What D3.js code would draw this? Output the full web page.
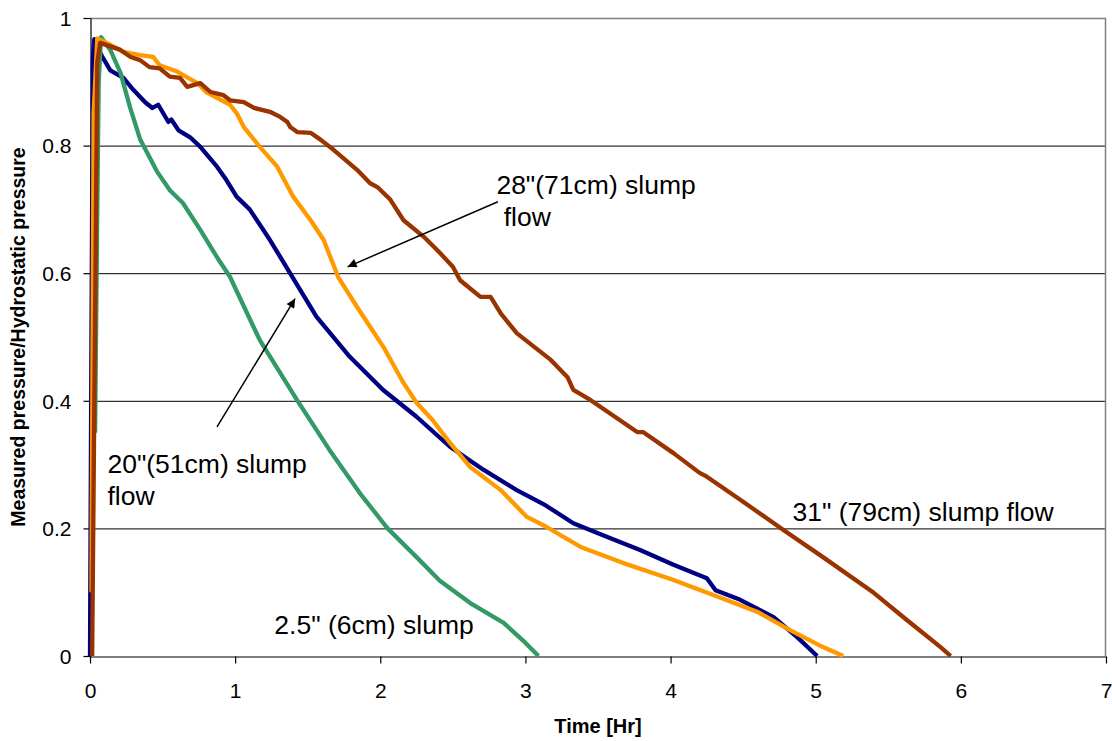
<!DOCTYPE html>
<html>
<head>
<meta charset="utf-8">
<script src="https://cdn.jsdelivr.net/npm/d3@7"></script>
<style>
  body { margin: 0; background: #fff; }
  text { font-family: "Liberation Sans", Arial, sans-serif; }
</style>
</head>
<body>
<div id="chart"></div>
<script>
// Data: [time (hr), measured/hydrostatic pressure]
var slump25 = [[0.035, 0.35], [0.05, 0.7], [0.06, 0.9], [0.076, 0.97], [0.14, 0.95], [0.21, 0.914],
  [0.276, 0.86], [0.345, 0.81], [0.46, 0.76], [0.55, 0.73], [0.64, 0.71], [0.76, 0.668],
  [0.875, 0.625], [0.965, 0.594], [1.17, 0.495], [1.43, 0.40], [1.65, 0.323], [1.86, 0.255],
  [2.05, 0.2], [2.25, 0.155], [2.41, 0.118], [2.62, 0.083], [2.85, 0.052], [2.98, 0.025], [3.09, 0]];

var flow20 = [[0.0, 0.0], [0.01, 0.5], [0.02, 0.94], [0.03, 0.967], [0.05, 0.955], [0.083, 0.94],
  [0.14, 0.918], [0.23, 0.906], [0.30, 0.887], [0.38, 0.868], [0.43, 0.859], [0.47, 0.864],
  [0.54, 0.837], [0.56, 0.841], [0.61, 0.824], [0.69, 0.813], [0.76, 0.798], [0.875, 0.767],
  [0.94, 0.746], [1.01, 0.72], [1.10, 0.70], [1.24, 0.652], [1.40, 0.592], [1.56, 0.532],
  [1.79, 0.469], [2.02, 0.417], [2.25, 0.375], [2.48, 0.328], [2.71, 0.292], [2.94, 0.26],
  [3.14, 0.236], [3.33, 0.208], [3.56, 0.187], [3.79, 0.166], [4.02, 0.143], [4.25, 0.122],
  [4.31, 0.103], [4.48, 0.088], [4.71, 0.061], [4.87, 0.03], [5.01, 0]];

var flow28 = [[0.01, 0.1], [0.025, 0.85], [0.05, 0.968], [0.14, 0.958], [0.23, 0.947], [0.345, 0.942],
  [0.435, 0.939], [0.48, 0.926], [0.60, 0.916], [0.74, 0.898], [0.80, 0.884], [0.875, 0.875],
  [0.965, 0.864], [1.01, 0.851], [1.06, 0.829], [1.17, 0.798], [1.29, 0.767], [1.40, 0.72],
  [1.52, 0.683], [1.61, 0.652], [1.71, 0.594], [1.84, 0.547], [2.02, 0.485], [2.16, 0.428],
  [2.25, 0.397], [2.36, 0.37], [2.48, 0.334], [2.62, 0.296], [2.83, 0.26], [3.01, 0.218],
  [3.14, 0.203], [3.38, 0.171], [3.67, 0.146], [4.02, 0.119], [4.29, 0.096], [4.60, 0.069],
  [4.82, 0.041], [5.05, 0.014], [5.19, 0]];

var flow31 = [[0.015, 0.0], [0.03, 0.4], [0.05, 0.93], [0.07, 0.961], [0.21, 0.95], [0.28, 0.939],
  [0.345, 0.934], [0.41, 0.923], [0.48, 0.921], [0.55, 0.908], [0.62, 0.906], [0.67, 0.892],
  [0.76, 0.898], [0.83, 0.884], [0.92, 0.879], [0.965, 0.871], [1.06, 0.868], [1.13, 0.859],
  [1.24, 0.853], [1.31, 0.845], [1.36, 0.837], [1.38, 0.829], [1.43, 0.821], [1.52, 0.82],
  [1.59, 0.809], [1.68, 0.793], [1.84, 0.762], [1.93, 0.741], [1.98, 0.735], [2.07, 0.715],
  [2.16, 0.683], [2.30, 0.657], [2.41, 0.632], [2.50, 0.61], [2.55, 0.589], [2.69, 0.563],
  [2.76, 0.563], [2.83, 0.537], [2.94, 0.506], [3.17, 0.465], [3.29, 0.437], [3.33, 0.417],
  [3.45, 0.401], [3.77, 0.351], [3.81, 0.351], [4.02, 0.318], [4.20, 0.287], [4.25, 0.281],
  [4.48, 0.245], [4.78, 0.197], [5.05, 0.155], [5.40, 0.099], [5.63, 0.056], [5.86, 0.014], [5.93, 0]];

var xTicks = [0, 1, 2, 3, 4, 5, 6, 7];
var yTicks = [0, 0.2, 0.4, 0.6, 0.8, 1];

// drawing order = layering
var seriesList = [
  { data: flow20, color: "#000080" },
  { data: slump25, color: "#339966" },
  { data: flow28, color: "#FF9900" },
  { data: flow31, color: "#993300" }
];

// annotations in data units
var labels = [
  { lines: ["28\"(71cm) slump", " flow"], x: 2.8, y: 0.724 },
  { lines: ["20\"(51cm) slump", "flow"], x: 0.12, y: 0.287 },
  { lines: ["31\" (79cm) slump flow"], x: 4.84, y: 0.211 },
  { lines: ["2.5\" (6cm) slump"], x: 1.27, y: 0.035 }
];
var arrows = [
  { from: [2.81, 0.712], to: [1.775, 0.61] },
  { from: [0.875, 0.359], to: [1.413, 0.56] }
];

var svgWidth = 1112;
var svgHeight = 741;
var margin = { top: 18, right: 6, bottom: 85, left: 90 };
var width = svgWidth - margin.left - margin.right;
var height = svgHeight - margin.top - margin.bottom;

var svg = d3.select("#chart").append("svg")
  .attr("width", svgWidth)
  .attr("height", svgHeight);

svg.append("defs").append("marker")
  .attr("id", "arrow")
  .attr("viewBox", "0 0 10 10")
  .attr("refX", 10).attr("refY", 5)
  .attr("markerWidth", 12).attr("markerHeight", 9)
  .attr("markerUnits", "userSpaceOnUse")
  .attr("orient", "auto")
  .append("path")
  .attr("d", "M0,0 L10,5 L0,10 z")
  .attr("fill", "#000");

var g = svg.append("g").attr("transform", `translate(${margin.left},${margin.top})`);

var x = d3.scaleLinear().domain([0, 7]).range([0, width]);
var y = d3.scaleLinear().domain([0, 1]).range([height, 0]);

// gridlines
g.selectAll(".grid").data(yTicks.filter(d => d > 0 && d < 1)).enter()
  .append("line")
  .attr("x1", 0).attr("x2", width)
  .attr("y1", d => y(d) + 0.5).attr("y2", d => y(d) + 0.5)
  .attr("stroke", "#000").attr("stroke-width", 1);

// top and right border (gray)
g.append("path")
  .attr("d", `M0,${y(1) + 0.5}H${width - 0.5}V${height}`)
  .attr("fill", "none").attr("stroke", "#808080").attr("stroke-width", 1.5);

// axes
var xAxis = d3.axisBottom(x).tickValues(xTicks).tickFormat(d3.format("d")).tickSize(7).tickSizeOuter(0);
var yAxis = d3.axisLeft(y).tickValues(yTicks).tickFormat(d => d === 0 || d === 1 ? d : d3.format(".1f")(d)).tickSize(7).tickSizeOuter(0);

var xg = g.append("g").attr("transform", `translate(0,${height + 0.5})`).call(xAxis);
var yg = g.append("g").attr("transform", "translate(0.5,0)").call(yAxis);

[xg, yg].forEach(function (a) {
  a.select(".domain").attr("stroke", "#000").attr("stroke-width", 1.2);
  a.selectAll(".tick line").attr("stroke", "#000").attr("stroke-width", 1.2);
  a.selectAll(".tick text")
    .attr("font-family", "Liberation Sans, Arial, sans-serif")
    .attr("font-size", "21px")
    .attr("fill", "#000");
});
xg.selectAll(".tick text").attr("dy", "1.5em");
yg.selectAll(".tick text").attr("x", -19).attr("dy", "0.35em");

// lines
var line = d3.line().x(d => x(d[0])).y(d => y(d[1]));
g.selectAll(".series").data(seriesList).enter()
  .append("path")
  .attr("d", d => line(d.data))
  .attr("fill", "none")
  .attr("stroke", d => d.color)
  .attr("stroke-width", 4.3)
  .attr("stroke-linejoin", "round");

// annotation arrows
g.selectAll(".arrow").data(arrows).enter()
  .append("line")
  .attr("x1", d => x(d.from[0])).attr("y1", d => y(d.from[1]))
  .attr("x2", d => x(d.to[0])).attr("y2", d => y(d.to[1]))
  .attr("stroke", "#000").attr("stroke-width", 1.5)
  .attr("marker-end", "url(#arrow)");

// annotation labels
labels.forEach(function (l) {
  var t = g.append("text")
    .attr("x", x(l.x)).attr("y", y(l.y))
    .attr("font-size", "26.5px")
    .attr("fill", "#000")
    .style("white-space", "pre");
  l.lines.forEach(function (s, i) {
    t.append("tspan").attr("x", x(l.x)).attr("dy", i === 0 ? 0 : 32).text(s);
  });
});

// axis titles
svg.append("text")
  .attr("x", margin.left + width / 2)
  .attr("y", 733)
  .attr("text-anchor", "middle")
  .attr("font-size", "20px")
  .attr("font-weight", "bold")
  .text("Time [Hr]");

svg.append("text")
  .attr("transform", `translate(25,${margin.top + height / 2}) rotate(-90)`)
  .attr("text-anchor", "middle")
  .attr("font-size", "19.5px")
  .attr("font-weight", "bold")
  .text("Measured pressure/Hydrostatic pressure");
</script>
</body>
</html>
